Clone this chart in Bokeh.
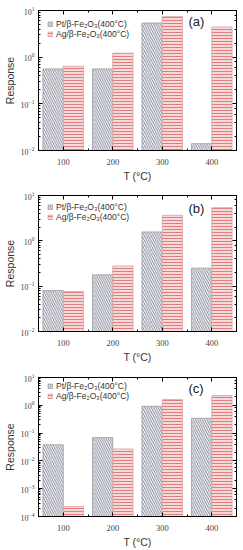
from bokeh.plotting import figure
from bokeh.models import (ColumnDataSource, Legend, LegendItem, Label, LogAxis,
                          LinearAxis, FixedTicker, Range1d, CustomJSTickFormatter,
                          LogTicker)
from bokeh.layouts import column
from bokeh.transform import dodge
from bokeh.embed import file_html
from bokeh.resources import INLINE

# ---------------- data ----------------
temps = [100, 200, 300, 400]
temp_labels = ["100", "200", "300", "400"]
series_names = ["Pt/β-Fe₂O₃(400°C)", "Ag/β-Fe₂O₃(400°C)"]
panel_tags = ["(a)", "(b)", "(c)"]

pt_a = [0.56, 0.56, 5.4, 0.014]
ag_a = [0.64, 1.22, 7.4, 4.45]
pt_b = [0.080, 0.178, 1.57, 0.25]
ag_b = [0.076, 0.28, 3.65, 5.4]
pt_c = [0.038, 0.069, 0.92, 0.34]
ag_c = [0.00023, 0.027, 1.62, 2.24]

y_ranges = [(1e-2, 1e1), (1e-2, 1e1), (1e-4, 1e1)]

PT_HATCH = "#5a5f74"
PT_LINE = "#9a9aa4"
AG_HATCH = "#e06464"
AG_FILL = "#f3d9d9"
AG_LINE = "#d9a3a3"

panels = [(pt_a, ag_a), (pt_b, ag_b), (pt_c, ag_c)]
# (height, border_top, border_bottom, tag offset, legend offset)
geo = [(185, 10, 35, 18, 4.5), (180, 10, 31, 23, 5.5), (185, 12, 31, 21, 2.5)]


def make_panel(i):
    pt, ag = panels[i]
    h, bt, bb, tag_off, leg_off = geo[i]
    y0, y1 = y_ranges[i]
    src = ColumnDataSource(dict(T=temps, pt=pt, ag=ag, base=[y0] * len(temps)))
    p = figure(width=243, height=h, y_axis_type="log",
               x_range=Range1d(50, 450), y_range=Range1d(y0, y1),
               output_backend="svg", toolbar_location=None,
               min_border_left=36, min_border_right=7,
               min_border_top=bt, min_border_bottom=bb)
    p.xgrid.visible = False
    p.ygrid.visible = False
    p.outline_line_color = "black"
    p.outline_line_width = 1
    p.background_fill_color = "white"
    p.border_fill_color = "white"

    r1 = p.vbar(x=dodge("T", -20.5), width=41, top="pt", bottom="base", source=src,
                fill_color="white", line_color=PT_LINE, line_width=0.8,
                hatch_pattern="left_diagonal_line", hatch_color=PT_HATCH,
                hatch_scale=4.5, hatch_weight=0.8)
    r2 = p.vbar(x=dodge("T", 20.5), width=41, top="ag", bottom="base", source=src,
                fill_color=AG_FILL, line_color=AG_LINE, line_width=0.8,
                hatch_pattern="horizontal_line", hatch_color=AG_HATCH,
                hatch_scale=3, hatch_weight=0.8)

    xa = p.xaxis[0]
    xa.ticker = FixedTicker(ticks=temps, minor_ticks=[50, 150, 250, 350, 450])
    xa.major_label_overrides = {t: l for t, l in zip(temps, temp_labels)}
    xa.axis_label = "T (°C)"
    ya = p.yaxis[0]
    ya.axis_label = "Response"
    for ax in (xa, ya):
        ax.axis_label_text_font = "Liberation Sans"
        ax.axis_label_text_font_style = "normal"
        ax.axis_label_text_font_size = "10.5px"
        ax.axis_label_text_color = "#333333"
        ax.major_label_text_font = "Liberation Serif"
        ax.major_label_text_color = "#444444"
        ax.major_tick_in = 4
        ax.major_tick_out = 0
        ax.minor_tick_in = 2
        ax.minor_tick_out = 0
        ax.axis_line_color = "black"
    xa.major_label_text_font_size = "8.5px"
    ya.major_label_text_font_size = "8px"
    xa.major_label_standoff = 8
    xa.axis_label_standoff = 2
    ya.major_label_standoff = 4
    ya.axis_label_standoff = 2

    # mirrored ticks on right and top (no labels)
    blank = CustomJSTickFormatter(code="return ''")
    ra = LogAxis(ticker=LogTicker(), formatter=blank,
                 major_tick_in=4, major_tick_out=0, minor_tick_in=2, minor_tick_out=0,
                 major_label_standoff=0, major_label_text_font_size="8px")
    p.add_layout(ra, "right")
    ta = LinearAxis(ticker=FixedTicker(ticks=temps, minor_ticks=[50, 150, 250, 350, 450]),
                    formatter=blank,
                    major_tick_in=4, major_tick_out=0, minor_tick_in=2, minor_tick_out=0,
                    major_label_standoff=0, major_label_text_font_size="8px")
    p.add_layout(ta, "above")

    fh = h - bt - bb
    legend = Legend(items=[LegendItem(label=series_names[0], renderers=[r1]),
                           LegendItem(label=series_names[1], renderers=[r2])],
                    location=(9, fh - 24 - leg_off),
                    label_text_font="Liberation Sans", label_text_font_size="8.5px",
                    label_text_color="#333333",
                    glyph_width=6, glyph_height=6, label_height=10, label_standoff=3,
                    spacing=0, padding=2, margin=0,
                    border_line_color=None, background_fill_alpha=0)
    p.add_layout(legend)

    tag = Label(x=150, y=fh - tag_off, x_units="screen", y_units="screen",
                text=panel_tags[i], text_font="Liberation Sans",
                text_font_size="13px", text_color="#222222")
    p.add_layout(tag)
    return p


plots = [make_panel(i) for i in range(3)]
layout = column(*plots, spacing=0)
open("out.html", "w").write(file_html(layout, INLINE))
